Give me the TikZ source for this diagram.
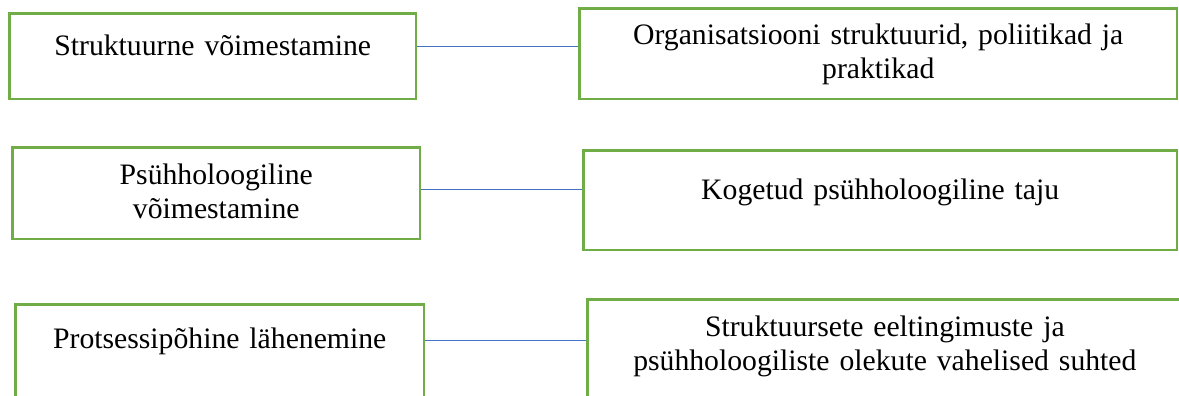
\documentclass[tikz,border=0pt]{standalone}
\usepackage{fontspec}
\setmainfont{Liberation Serif}
\definecolor{kastiroheline}{HTML}{70AD47}
\definecolor{joonesinine}{HTML}{4472C4}

\begin{document}
\begin{tikzpicture}[x=1pt,y=-1pt,
  kast/.style={draw=kastiroheline,line width=2.5pt,inner sep=0pt,anchor=north west,
    align=center,font=\fontsize{29.7pt}{34pt}\selectfont},
  joon/.style={joonesinine,line width=1.2pt}]
\clip (0,0) rectangle (1179,396);
% vasak tulp
\node[kast,text width=406.5pt,text height=41.75pt,text depth=43.75pt] at (8.25,12.25) (L1) {Struktuurne võimestamine};
\node[kast,text width=407.5pt,text height=36.75pt,text depth=54.75pt] at (11.25,146.25) (L2) {Psühholoogiline\\võimestamine};
\node[kast,text width=408.5pt,text height=43.75pt,text depth=51pt] at (14.25,303.25) (L3) {Protsessipõhine lähenemine};
% parem tulp
\node[kast,text width=597.5pt,text height=35.75pt,text depth=54.75pt] at (578.25,7.25) (R1) {Organisatsiooni struktuurid, poliitikad ja\\praktikad};
\node[kast,text width=593.5pt,text height=48.75pt,text depth=50.75pt] at (582.25,149.25) (R2) {Kogetud psühholoogiline taju};
\node[kast,text width=594.75pt,text height=36.75pt,text depth=65pt] at (586.25,298.25) (R3) {Struktuursete eeltingimuste ja\\psühholoogiliste olekute vahelised suhted};
% seosed
\draw[joon] ([yshift=10pt]L1.east) -- ([yshift=10pt]L1.east -| R1.west);
\draw[joon] ([yshift=4pt]L2.east) -- ([yshift=4pt]L2.east -| R2.west);
\draw[joon] ([yshift=11.6pt]L3.east) -- ([yshift=11.6pt]L3.east -| R3.west);
\end{tikzpicture}
\end{document}
